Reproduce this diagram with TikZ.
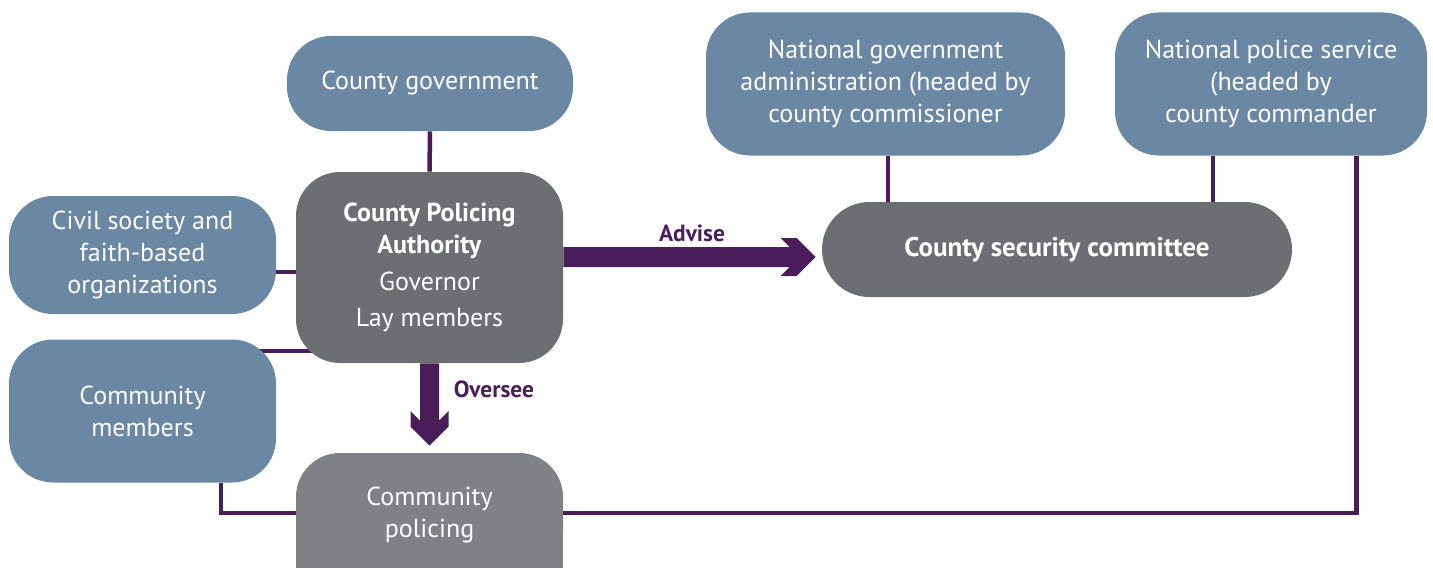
\documentclass[tikz,border=0pt]{standalone}
\usepackage{fontspec}
\setmainfont{PT Sans}
\usetikzlibrary{calc,backgrounds}
\definecolor{boxblue}{HTML}{6A87A3}
\definecolor{boxdark}{HTML}{6D6E72}
\definecolor{boxgray}{HTML}{808184}
\definecolor{linepurple}{HTML}{4A1D5A}
\begin{document}
\begin{tikzpicture}[x=0.5pt,y=-0.5pt,
  box/.style={rounded corners=22pt, inner sep=0pt, align=center, text=white, font=\fontsize{13}{16}\selectfont},
  bluebox/.style={box, fill=boxblue},
  darkbox/.style={box, fill=boxdark},
  graybox/.style={box, fill=boxgray},
  conn/.style={draw=linepurple, line width=2.25pt},
  lbl/.style={text=linepurple, inner sep=0pt, font=\bfseries\fontsize{11.7}{14}\selectfont}
]
\useasboundingbox (0,0) rectangle (1433,567);
\clip (0,0) rectangle (1433,567);

% nodes
\node[bluebox, minimum width=143pt, minimum height=47.5pt] (cg) at (430,83.5) {County government};
\node[bluebox, minimum width=133.5pt, minimum height=59pt] (cs) at (142.5,255) {Civil society and\\faith-based\\organizations};
\node[bluebox, minimum width=133.5pt, minimum height=71.5pt] (cm) at (142.5,411) {Community\\members};
\node[bluebox, minimum width=179.5pt, minimum height=71.5pt] (nga) at (885.5,84) {National government\\administration (headed by\\county commissioner};
\node[bluebox, minimum width=156pt, minimum height=71.5pt] (nps) at (1271,84) {National police service\\(headed by\\county commander};
\node[darkbox, minimum width=133.5pt, minimum height=95.5pt] (cpa) at (429.5,267.5) {\textbf{County Policing}\\\textbf{Authority}\\[2.5pt]Governor\\[2pt]Lay members};
\node[darkbox, rounded corners=23.75pt, minimum width=235pt, minimum height=47.5pt, font=\bfseries\fontsize{13.5}{16}\selectfont] (csc) at (1057,249.5) {County security committee};
\fill[boxgray] (296,520) rectangle (563,580);
\node[graybox, minimum width=133.5pt, minimum height=61.5pt] (cp) at (429.5,514.5) {Community\\policing};

% connectors (behind the boxes)
\begin{scope}[on background layer]
\draw[conn] ([yshift=-6pt]cm.north) -- ([yshift=-6pt]cm.north -| cpa.center);
\draw[conn] ([yshift=-8.5pt]cs.east) -- ([yshift=-8.5pt]cs.east -| cpa.center);
\draw[conn] (cg.south) -- (cpa.north);
\draw[conn] ([xshift=39.25pt]cm.south) |- ([yshift=0.75pt]cp.center);
\draw[conn] ([yshift=0.75pt]cp.center) -| ([xshift=42.75pt]nps.south);
\draw[conn] ([xshift=1.25pt]nga.south) -- ([xshift=1.25pt]nga.south |- csc.north);
\draw[conn] ([xshift=-29pt]nps.south) -- ([xshift=-29pt]nps.south |- csc.north);
\end{scope}

% arrows
\coordinate (aS) at ([yshift=5.25pt]cpa.east);
\coordinate (aT) at ([xshift=-3pt]csc.west |- aS);
\fill[linepurple] ($(aS)+(0,-10)$) -- ($(aT)+(-26,-10)$) -- ($(aT)+(-35,-19)$) -- ($(aT)+(-19,-19)$) -- (aT)
  -- ($(aT)+(-19,19)$) -- ($(aT)+(-35,19)$) -- ($(aT)+(-26,10)$) -- ($(aS)+(0,10)$) -- cycle;
\coordinate (oS) at (cpa.south);
\coordinate (oT) at ([yshift=3.5pt]cp.north);
\fill[linepurple] ($(oS)+(-9.5,0)$) -- ($(oT)+(-9.5,-25)$) -- ($(oT)+(-19,-34.5)$) -- ($(oT)+(-19,-19)$) -- (oT)
  -- ($(oT)+(19,-19)$) -- ($(oT)+(19,-34.5)$) -- ($(oT)+(9.5,-25)$) -- ($(oS)+(9.5,0)$) -- cycle;

\node[lbl] (adv) at (692,233) {Advise};
\node[lbl] (ovs) at (494,389) {Oversee};
\end{tikzpicture}
\end{document}
